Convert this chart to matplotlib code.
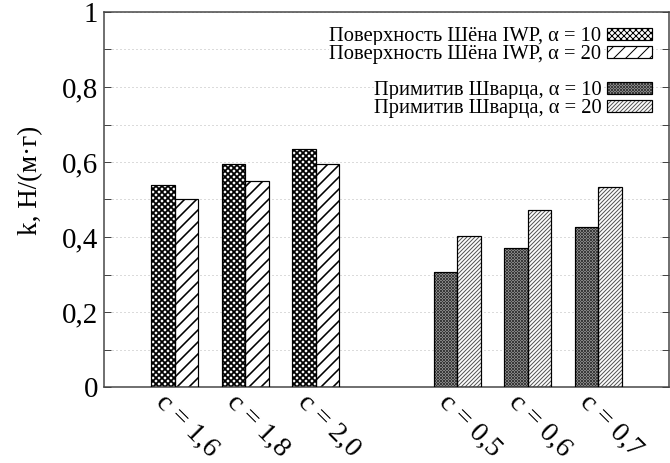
import matplotlib
matplotlib.use("Agg")
import matplotlib.pyplot as plt
import matplotlib.transforms as mtransforms
import matplotlib.colors as mcolors
from matplotlib.patches import Rectangle
import numpy as np

plt.rcParams['font.family'] = ['Liberation Serif', 'DejaVu Serif']

# --- data -------------------------------------------------------------
iwp_labels = ["c = 1,6", "c = 1,8", "c = 2,0"]
schwarz_labels = ["c = 0,5", "c = 0,6", "c = 0,7"]

iwp_a10 = [0.539, 0.595, 0.634]
iwp_a20 = [0.501, 0.549, 0.595]
schwarz_a10 = [0.308, 0.370, 0.427]
schwarz_a20 = [0.404, 0.472, 0.533]

series_names = [
    "Поверхность Шёна IWP, α = 10",
    "Поверхность Шёна IWP, α = 20",
    "Примитив Шварца, α = 10",
    "Примитив Шварца, α = 20",
]
ylabel = "k, Н/(м·г)"

# --- figure -----------------------------------------------------------
DPI = 72
fig = plt.figure(figsize=(670 / DPI, 463 / DPI), dpi=DPI)
ax = fig.add_axes([104 / 670, 76 / 463, 565 / 670, 375 / 463])

iwp_x = np.arange(len(iwp_labels))
schwarz_x = np.arange(len(schwarz_labels)) + len(iwp_labels) + 1
w = 1 / 3


def hatched_bars(x, h, face, hatch, hcolor, hlw):
    plt.rcParams['hatch.linewidth'] = hlw
    bars = ax.bar(x, h, w, facecolor=face, edgecolor=hcolor, hatch=hatch,
                  linewidth=0, zorder=2)
    for b in bars:
        if hasattr(b, "set_hatch_linewidth"):
            b.set_hatch_linewidth(hlw)
    ax.bar(x, h, w, facecolor="none", edgecolor="black", linewidth=1.2, zorder=3)
    return bars


styles = [
    ("white", "xxxx", "black", 1.8),
    ("white", "//", "black", 1.6),
    ("#d0d0d0", "xxxxxxxx", "#3a3a3a", 1.0),
    ("white", "//////", "#555555", 1.0),
]
b1 = hatched_bars(iwp_x - w / 2, iwp_a10, *styles[0])
b2 = hatched_bars(iwp_x + w / 2, iwp_a20, *styles[1])
b3 = hatched_bars(schwarz_x - w / 2, schwarz_a10, *styles[2])
b4 = hatched_bars(schwarz_x + w / 2, schwarz_a20, *styles[3])

# --- axes -------------------------------------------------------------
ax.set_xlim(-1, 7)
ax.set_ylim(0, 1)
ax.set_yticks(np.arange(0, 1.01, 0.2))
ax.set_yticks(np.arange(0.1, 1.0, 0.2), minor=True)
ax.set_yticklabels(["0", "0,2", "0,4", "0,6", "0,8", "1"], fontsize=29)
ax.tick_params(axis="y", which="both", direction="in", length=7, width=1,
               left=True, right=True, color="#444444", pad=6)
ax.grid(axis="y", which="both", linestyle=(0, (1, 3)), color="#b8b8b8",
        linewidth=1, zorder=0)
ax.set_axisbelow(True)
for s in ax.spines.values():
    s.set_color("#444444")
    s.set_linewidth(1.5)

ax.set_xticks(np.concatenate([iwp_x, schwarz_x]))
ax.set_xticklabels(iwp_labels + schwarz_labels, fontsize=28,
                   rotation=-45, ha="left", va="top", rotation_mode="anchor")
ax.tick_params(axis="x", length=0, pad=3)
shift = mtransforms.ScaledTranslation(-6 / DPI, 0, fig.dpi_scale_trans)
for lbl in ax.get_xticklabels():
    lbl.set_transform(lbl.get_transform() + shift)

ax.set_ylabel(ylabel, fontsize=27)
ax.yaxis.set_label_coords(-0.108, 0.552)

# --- legend -----------------------------------------------------------
blank = Rectangle((0, 0), 1, 1, fill=False, edgecolor="none", linewidth=0)
handles = [b1[0], b2[0], blank, b3[0], b4[0]]
labels = [series_names[0], series_names[1], " ", series_names[2], series_names[3]]
leg = ax.legend(handles, labels, loc="upper right", markerfirst=False,
                frameon=False, fontsize=20.5, handlelength=2.2,
                handleheight=0.5, handletextpad=0.25, labelspacing=-0.05,
                borderaxespad=0, bbox_to_anchor=(660 / 670, 1 - 19 / 463),
                bbox_transform=fig.transFigure)
for t in leg.get_texts():
    t.set_bbox(dict(facecolor="white", edgecolor="none", pad=0))
hatch_cols = [styles[0][2], styles[1][2], None, styles[2][2], styles[3][2]]
for h, hc in zip(leg.legend_handles, hatch_cols):
    if hc is None:
        continue
    h.set_edgecolor("black")
    h.set_linewidth(1.2)
    h._hatch_color = mcolors.to_rgba(hc)

fig.savefig("out.png", dpi=DPI)
